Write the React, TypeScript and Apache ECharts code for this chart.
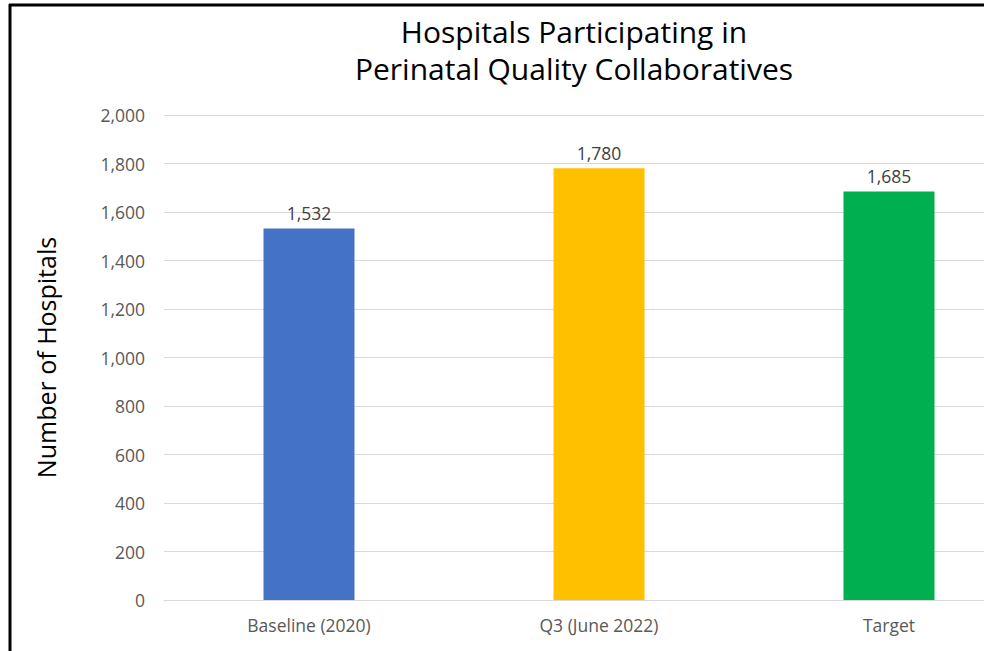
import React, { useEffect, useRef } from "react";
import * as echarts from "echarts";

const categories = ["Baseline (2020)", "Q3 (June 2022)", "Target"];
const values = [1532, 1780, 1685];
const barColors = ["#4472C4", "#FFC000", "#00B050"];
const titleLines = ["Hospitals Participating in", "Perinatal Quality Collaboratives"];
const yAxisTitle = "Number of Hospitals";

const FONT = "'Open Sans', sans-serif";

export default function App() {
  const ref = useRef<HTMLDivElement>(null);
  useEffect(() => {
    if (!ref.current) return;
    const chart = echarts.init(ref.current, null, { renderer: "svg" });
    chart.setOption({
      animation: false,
      backgroundColor: "#ffffff",
      title: titleLines.map((t, i) => ({
        text: t,
        left: 574,
        top: 14 + i * 37,
        padding: 0,
        textAlign: "center",
        textStyle: {
          fontFamily: FONT,
          fontSize: 30,
          fontWeight: "normal",
          color: "#000000",
          lineHeight: 34,
        },
      })),
      grid: {
        left: 164,
        width: 870,
        top: 115,
        bottom: 51,
        containLabel: false,
        outerBoundsMode: "none",
      },
      xAxis: {
        type: "category",
        data: categories,
        axisLine: { show: true, lineStyle: { color: "#d9d9d9", width: 1 } },
        axisTick: { show: false },
        axisLabel: { color: "#595959", fontSize: 17.5, fontFamily: FONT, margin: 16 },
      },
      yAxis: {
        type: "value",
        min: 0,
        max: 2000,
        interval: 200,
        name: yAxisTitle,
        nameLocation: "middle",
        nameGap: 106,
        nameTextStyle: { fontFamily: FONT, fontSize: 25, color: "#000000" },
        axisLine: { show: false },
        axisTick: { show: false },
        splitLine: { lineStyle: { color: "#d9d9d9", width: 1 } },
        axisLabel: {
          color: "#595959",
          fontSize: 17.5,
          fontFamily: FONT,
          margin: 19,
          formatter: (v: number) => v.toLocaleString("en-US"),
        },
      },
      series: [
        {
          type: "bar",
          barWidth: 91,
          data: values.map((v, i) => ({ value: v, itemStyle: { color: barColors[i] } })),
          label: {
            show: true,
            position: "top",
            distance: 6,
            color: "#404040",
            fontSize: 17.5,
            fontFamily: FONT,
            formatter: (p: any) => Number(p.value).toLocaleString("en-US"),
          },
        },
      ],
      graphic: [
        { type: "line", shape: { x1: 10, y1: 4, x2: 10, y2: 651 }, style: { stroke: "#000", lineWidth: 3 } },
        { type: "line", shape: { x1: 9, y1: 5, x2: 984, y2: 5 }, style: { stroke: "#000", lineWidth: 3 } },
      ],
    });
    return () => chart.dispose();
  }, []);
  return (
    <div
      ref={ref}
      style={{ position: "fixed", left: 0, top: 0, width: 984, height: 651 }}
    />
  );
}
